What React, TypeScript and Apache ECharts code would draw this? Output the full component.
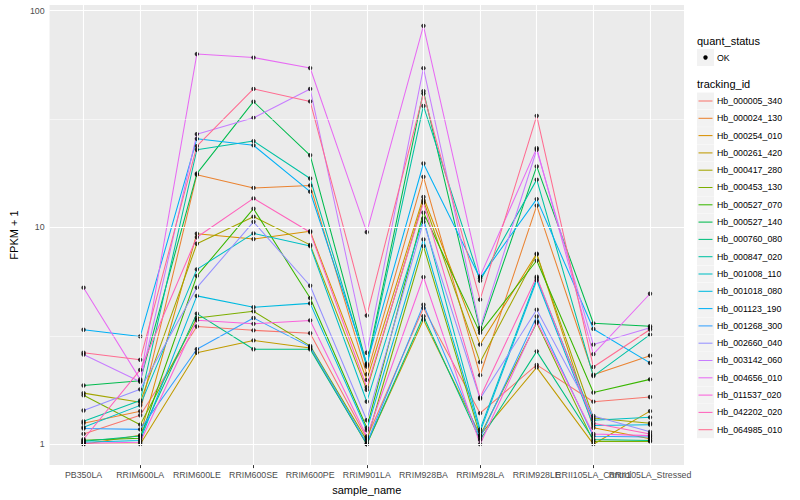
import React, { useEffect, useRef } from "react";
import * as echarts from "echarts";

const sampleNames = [
  "PB350LA", "RRIM600LA", "RRIM600LE", "RRIM600SE", "RRIM600PE", "RRIM901LA",
  "RRIM928BA", "RRIM928LA", "RRIM928LE", "RRII105LA_Control", "RRII105LA_Stressed",
];

const trackingIds = [
  "Hb_000005_340", "Hb_000024_130", "Hb_000254_010", "Hb_000261_420", "Hb_000417_280",
  "Hb_000453_130", "Hb_000527_070", "Hb_000527_140", "Hb_000760_080", "Hb_000847_020",
  "Hb_001008_110", "Hb_001018_080", "Hb_001123_190", "Hb_001268_300", "Hb_002660_040",
  "Hb_003142_060", "Hb_004656_010", "Hb_011537_020", "Hb_042202_020", "Hb_064985_010",
];

const trackingColors = [
  "#F8766D", "#EA8331", "#D89000", "#C09B00", "#A3A500", "#7CAE00", "#39B600", "#00BB4E",
  "#00BF7D", "#00C1A3", "#00BFC4", "#00BAE0", "#00B0F6", "#35A2FF", "#9590FF", "#C77CFF",
  "#E76BF3", "#FA62DB", "#FF62BC", "#FF6C91",
];

const quantStatus = ["OK"];
const yTickValues = [1, 10, 100];
const yMinorGridValues = [3.162, 31.62];

// FPKM + 1 per sample, in sampleNames order
const v000005_340 = [1.115, 1.36, 3.49, 3.35, 3.25, 1.065, 4.25, 1.39, 2.32, 1.57, 1.65];
const v000024_130 = [1.25, 1.42, 17.5, 15.2, 15.6, 2.1, 17.1, 2.08, 12.6, 2.09, 2.56];
const v000254_010 = [1.0, 1.1, 9.35, 8.83, 9.6, 1.98, 13.8, 2.88, 7.57, 1.19, 1.06];
const v000261_420 = [1.0, 1.0, 2.64, 3.01, 2.78, 1.0, 3.75, 1.1, 2.26, 1.0, 1.42];
const v000417_280 = [1.72, 1.56, 8.4, 11.2, 8.3, 1.78, 13.3, 2.39, 7.5, 1.32, 1.25];
const v000453_130 = [1.68, 1.23, 3.82, 4.1, 2.84, 1.04, 8.2, 1.095, 3.63, 1.03, 1.03];
const v000527_070 = [1.043, 1.065, 5.97, 12.2, 4.72, 1.19, 11.7, 3.26, 7.03, 1.73, 1.99];
const v000527_140 = [1.865, 1.96, 17.7, 38, 21.5, 2.32, 42.5, 3.35, 19.1, 3.61, 3.5];
const v000760_080 = [1.032, 1.09, 4.0, 2.74, 2.74, 1.0, 3.89, 1.046, 2.68, 1.05, 1.04];
const v000847_020 = [1.275, 1.59, 22.8, 25, 16.8, 2.28, 36.3, 5.67, 16.6, 2.06, 3.2];
const v001008_110 = [1.197, 1.51, 6.4, 9.38, 8.2, 1.57, 11.0, 1.17, 5.83, 1.29, 1.33];
const v001018_080 = [1.021, 1.04, 4.83, 4.28, 4.46, 1.16, 8.8, 1.14, 5.7, 1.22, 1.23];
const v001123_190 = [3.37, 3.14, 25.6, 23.9, 14.6, 2.35, 19.7, 5.83, 13.5, 3.4, 2.37];
const v001268_300 = [1.18, 1.17, 2.74, 3.82, 2.81, 1.01, 4.4, 1.07, 3.88, 1.088, 1.08];
const v002660_040 = [1.43, 1.79, 5.27, 10.6, 5.38, 1.29, 10.6, 1.62, 4.17, 1.35, 1.14];
const v003142_060 = [2.59, 1.94, 26.9, 32, 43.5, 2.64, 54.2, 3.44, 22.8, 2.88, 3.44];
const v004656_010 = [5.27, 1.99, 63, 60.7, 54.3, 9.5, 85, 5.94, 23.2, 2.6, 4.94];
const v011537_020 = [1.01, 1.02, 3.73, 3.59, 3.72, 1.085, 5.9, 1.0, 3.68, 1.115, 1.095];
const v042202_020 = [1.054, 2.2, 9.0, 13.6, 9.5, 1.83, 13.0, 1.64, 5.92, 1.25, 1.115];
const v064985_010 = [2.64, 2.45, 23.7, 43.5, 38.1, 3.92, 41.4, 4.64, 32.7, 2.27, 3.38];

const seriesValues = [
  v000005_340, v000024_130, v000254_010, v000261_420, v000417_280, v000453_130, v000527_070,
  v000527_140, v000760_080, v000847_020, v001008_110, v001018_080, v001123_190, v001268_300,
  v002660_040, v003142_060, v004656_010, v011537_020, v042202_020, v064985_010,
];

export default function App() {
  const ref = useRef<HTMLDivElement>(null);

  useEffect(() => {
    const chart = echarts.init(ref.current!, null, { renderer: "svg" });
    const font = "'Liberation Sans', Arial, Helvetica, sans-serif";
    const lg = (v: number) => Math.log10(v);
    const xIdx = sampleNames.map((_, i) => i);
    const xEven = xIdx.filter((i) => i % 2 === 0);
    const xOdd = xIdx.filter((i) => i % 2 === 1);

    const gridLine = (w: number) => ({ color: "#FFFFFF", width: w, type: "solid" as const });

    const gridSeries: any = {
      type: "line",
      data: [[0, 0]],
      showSymbol: false,
      symbol: "none",
      lineStyle: { opacity: 0 },
      silent: true,
      z: 1,
      markLine: {
        silent: true,
        symbol: ["none", "none"],
        label: { show: false },
        emphasis: { disabled: true },
        data: [
          ...yMinorGridValues.map((v) => ({ yAxis: lg(v), lineStyle: gridLine(0.55) })),
          ...yTickValues.map((v) => ({ yAxis: lg(v), lineStyle: gridLine(1.1) })),
          ...xIdx.map((i) => ({ xAxis: i, lineStyle: gridLine(1.1) })),
        ],
      },
    };

    const lineSeries = trackingIds.map((id, k) => ({
      type: "line",
      name: id,
      data: seriesValues[k].map((v, i) => [i, lg(v)]),
      showSymbol: false,
      symbol: "none",
      silent: true,
      z: 2,
      lineStyle: { color: trackingColors[k], width: 1.05 },
      itemStyle: { color: trackingColors[k] },
    }));

    const points: number[][] = [];
    seriesValues.forEach((arr) => arr.forEach((v, i) => points.push([i, lg(v)])));
    const pointSeries = {
      type: "scatter",
      name: quantStatus[0],
      data: points,
      symbol: "circle",
      symbolSize: 4.4,
      silent: true,
      z: 3,
      itemStyle: { color: "#000000" },
    };

    // legend (ggplot style) built from ids and colors
    const lx = 697;
    const legendEls: any[] = [
      { type: "text", left: lx, top: 35, style: { text: "quant_status", fontSize: 11, fontFamily: font, fill: "#000" } },
      { type: "rect", shape: { x: lx, y: 49, width: 17, height: 17 }, style: { fill: "#F2F2F2" } },
      { type: "circle", shape: { cx: lx + 8.5, cy: 57.5, r: 2.2 }, style: { fill: "#000" } },
      { type: "text", left: lx + 20, top: 53, style: { text: quantStatus[0], fontSize: 8.8, fontFamily: font, fill: "#000" } },
      { type: "text", left: lx, top: 78.5, style: { text: "tracking_id", fontSize: 11, fontFamily: font, fill: "#000" } },
    ];
    const step = 17.3;
    trackingIds.forEach((id, k) => {
      const cy = 101 + k * step;
      legendEls.push(
        { type: "rect", shape: { x: lx, y: cy - 8.5, width: 17, height: 17 }, style: { fill: "#F2F2F2" } },
        { type: "line", shape: { x1: lx + 1.5, y1: cy, x2: lx + 15.5, y2: cy }, style: { stroke: trackingColors[k], lineWidth: 1.05 } },
        { type: "text", left: lx + 20, top: cy - 4.6, style: { text: id, fontSize: 8.8, fontFamily: font, fill: "#000" } },
      );
    });

    const xAxisBase = (vals: number[]) => ({
      type: "value",
      min: -0.6,
      max: 10.6,
      position: "bottom",
      axisLine: { show: false },
      splitLine: { show: false },
      axisTick: { show: true, customValues: vals, length: 3, lineStyle: { color: "#333333", width: 1 } },
      axisLabel: {
        customValues: vals,
        formatter: (v: number) => sampleNames[Math.round(v)] ?? "",
        color: "#4D4D4D", fontSize: 8.8, margin: 5, fontFamily: font,
        hideOverlap: false, showMinLabel: true, showMaxLabel: true,
      },
    });

    chart.setOption({
      animation: false,
      textStyle: { fontFamily: font },
      grid: {
        left: 40, right: 116, top: 5, bottom: 32,
        show: true, backgroundColor: "#EBEBEB", borderWidth: 0,
      },
      xAxis: [
        {
          ...xAxisBase(xEven),
          name: "sample_name",
          nameLocation: "middle",
          nameGap: 18,
          nameTextStyle: { fontSize: 11, color: "#000", fontFamily: font },
        },
        { ...xAxisBase(xOdd), offset: 0 },
      ],
      yAxis: {
        type: "value",
        min: -0.0965,
        max: 2.0255,
        axisLine: { show: false },
        splitLine: { show: false },
        axisTick: { show: true, customValues: yTickValues.map(lg), length: 3, lineStyle: { color: "#333333", width: 1 } },
        axisLabel: {
          customValues: yTickValues.map(lg),
          formatter: (v: number) => String(Math.round(Math.pow(10, v))),
          color: "#4D4D4D", fontSize: 8.8, margin: 5, fontFamily: font,
          showMinLabel: true, showMaxLabel: true,
        },
        name: "FPKM + 1",
        nameLocation: "middle",
        nameGap: 21,
        nameRotate: 90,
        nameTextStyle: { fontSize: 11, color: "#000", fontFamily: font },
      },
      graphic: legendEls,
      series: [gridSeries, ...lineSeries, pointSeries],
    });

    return () => chart.dispose();
  }, []);

  return (
    <div
      ref={ref}
      style={{ position: "fixed", left: 0, top: 0, width: 800, height: 500, background: "#fff" }}
    />
  );
}
